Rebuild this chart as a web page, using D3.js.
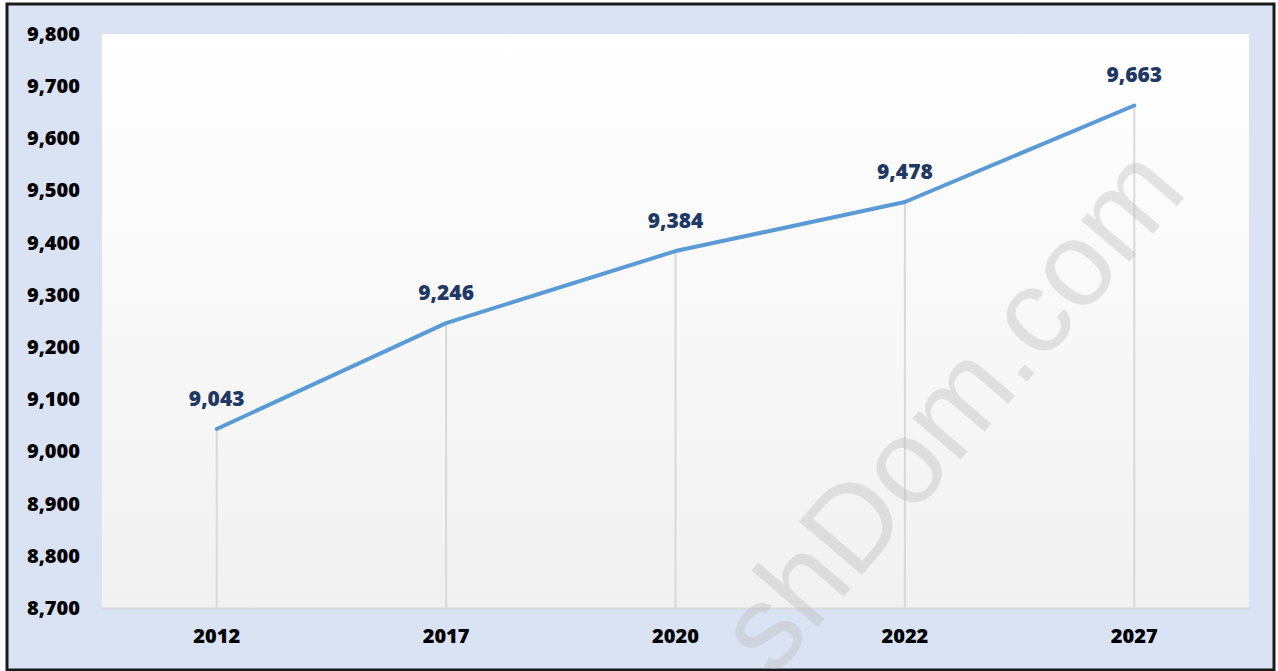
<!DOCTYPE html>
<html>
<head>
<meta charset="utf-8">
<script src="https://cdn.jsdelivr.net/npm/d3@7"></script>
<style>
  body { margin: 0; background: #fff; }
  svg { display: block; }
  text { font-family: "Open Sans", Lato, sans-serif; font-weight: 800; }
</style>
</head>
<body>
<svg id="chart"></svg>
<script>
// data
const years = ['2012', '2017', '2020', '2022', '2027'];
const values = [9043, 9246, 9384, 9478, 9663];
const yTicks = [8700, 8800, 8900, 9000, 9100, 9200, 9300, 9400, 9500, 9600, 9700, 9800];

const width = 1278, height = 671;
const margin = { top: 34, right: 29, bottom: 63, left: 102 };
const innerW = width - margin.left - margin.right;
const innerH = height - margin.top - margin.bottom;

const svg = d3.select('#chart')
    .attr('width', width)
    .attr('height', height);

const defs = svg.append('defs');
const grad = defs.append('linearGradient')
    .attr('id', 'plotBg')
    .attr('x1', 0).attr('y1', 0).attr('x2', 0).attr('y2', 1);
grad.append('stop').attr('offset', '0%').attr('stop-color', '#ffffff');
grad.append('stop').attr('offset', '100%').attr('stop-color', '#f1f1f1');

// outer frame
svg.append('rect')
    .attr('x', 7).attr('y', 4)
    .attr('width', 1267).attr('height', 666)
    .attr('fill', '#dae3f3')
    .attr('stroke', '#1a1a1a')
    .attr('stroke-width', 3);

const chart = svg.append('g')
    .attr('transform', `translate(${margin.left},${margin.top})`);

chart.append('rect')
    .attr('width', innerW)
    .attr('height', innerH)
    .attr('fill', 'url(#plotBg)');

const x = d3.scaleBand()
    .domain(years)
    .range([0, innerW]);

const y = d3.scaleLinear()
    .domain([8700, 9800])
    .range([innerH, 0]);

const cx = d => x(d) + x.bandwidth() / 2;

// drop lines
chart.selectAll('.drop')
    .data(years)
    .join('line')
    .attr('class', 'drop')
    .attr('x1', d => cx(d)).attr('x2', d => cx(d))
    .attr('y1', (d, i) => y(values[i]))
    .attr('y2', innerH)
    .attr('stroke', '#d9d9d9')
    .attr('stroke-width', 2);

// x axis
const xAxisG = chart.append('g')
    .attr('transform', `translate(0,${innerH})`)
    .call(d3.axisBottom(x).tickSize(0).tickPadding(21));
xAxisG.select('.domain').attr('stroke', '#d9d9d9').attr('stroke-width', 2);
xAxisG.selectAll('text')
    .attr('font-size', 20)
    .attr('fill', '#000');

// y axis
const yAxisG = chart.append('g')
    .call(d3.axisLeft(y).tickValues(yTicks).tickSize(0).tickPadding(22).tickFormat(d3.format(',')));
yAxisG.select('.domain').remove();
yAxisG.selectAll('text')
    .attr('font-size', 20)
    .attr('fill', '#000');

// line
const line = d3.line()
    .x((d, i) => cx(years[i]))
    .y(d => y(d));

chart.append('path')
    .datum(values)
    .attr('d', line)
    .attr('fill', 'none')
    .attr('stroke', '#5b9bd5')
    .attr('stroke-width', 4)
    .attr('stroke-linecap', 'round')
    .attr('stroke-linejoin', 'round');

// data labels
chart.selectAll('.label')
    .data(values)
    .join('text')
    .attr('class', 'label')
    .attr('x', (d, i) => cx(years[i]))
    .attr('y', d => y(d) - 23)
    .attr('text-anchor', 'middle')
    .attr('font-size', 21)
    .attr('fill', '#1f3864')
    .text(d => d3.format(',')(d));

// watermark
svg.append('text')
    .attr('transform', 'translate(1189,192) rotate(-49.5)')
    .attr('text-anchor', 'end')
    .attr('font-size', 120)
    .style('font-family', '"Liberation Sans", Arial, sans-serif')
    .style('font-weight', 'normal')
    .attr('fill', '#bbbbbb')
    .attr('opacity', 0.38)
    .text('shDom.com');
</script>
</body>
</html>
